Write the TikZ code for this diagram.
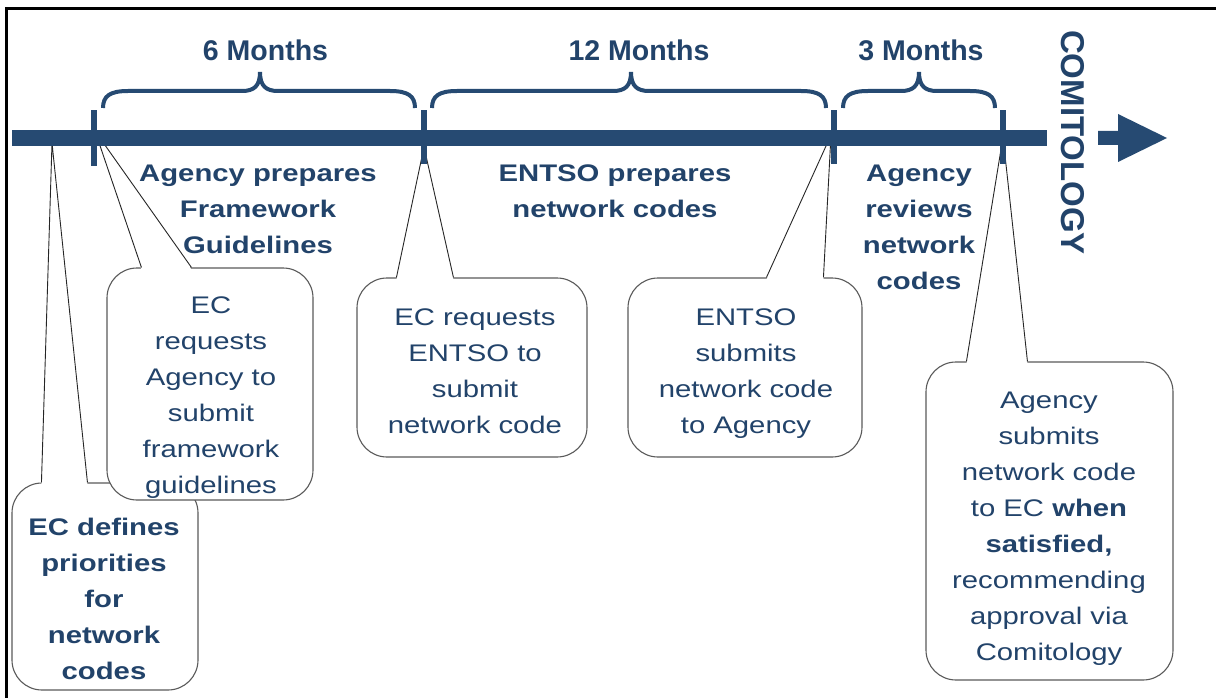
\documentclass[tikz,border=0pt]{standalone}
\usepackage{fontspec}
\setmainfont{Liberation Sans}
\newfontfamily\widefont{Liberation Sans}[FakeStretch=1.22]
\usetikzlibrary{calc}
\definecolor{navy}{RGB}{38,74,114}
\definecolor{txtblue}{RGB}{34,67,106}
\definecolor{outl}{RGB}{90,90,90}
\begin{document}
\begin{tikzpicture}[x=1pt,y=-1pt,
  bracestyle/.style={draw=navy,line width=4pt},
  toplab/.style={text=txtblue,inner sep=0,font=\bfseries\fontsize{28.5}{34}\selectfont},
  midlab/.style={text=txtblue,align=center,inner sep=0,anchor=north,font=\widefont\bfseries\fontsize{24}{36}\selectfont},
  boxtxt/.style={text=txtblue,align=center,inner sep=0,anchor=north,font=\widefont\fontsize{24}{36}\selectfont},
  boxtxtb/.style={boxtxt,font=\widefont\bfseries\fontsize{24}{36}\selectfont},
  callbox/.style={draw=outl,line width=1.1pt,fill=white,rounded corners=30pt,inner sep=0},
  ptr/.style={draw=black!85,line width=0.9pt},
  ptrfill/.style={fill=white},
]
\useasboundingbox (0,0) rectangle (1216,698);
\fill[white] (0,0) rectangle (1216,698);
% frame
\draw[line width=2.6pt] (6.5,698) -- (6.5,8.5) -- (1216,8.5);

% apex coordinates on the timeline
\coordinate (pA) at (52,143);
\coordinate (pB) at (95,131);
\coordinate (pC) at (424,147);
\coordinate (pD) at (831,135);
\coordinate (pE) at (1003,137);

% callout A
\node[callbox,minimum width=186pt,minimum height=207pt] (bA) at (105,586.5) {};
\fill[ptrfill] ($(bA.north west)+(30,2)$) -- (pA) -- ($(bA.north west)+(76,2)$) -- cycle;
\draw[ptr] ($(bA.north west)+(30,0)$) -- (pA) -- ($(bA.north west)+(76,0)$);
% callout B
\node[callbox,minimum width=206pt,minimum height=232pt] (bB) at (210,384) {};
\fill[ptrfill] ($(bB.north west)+(35,2)$) -- (pB) -- ($(bB.north west)+(85,2)$) -- cycle;
\draw[ptr] ($(bB.north west)+(35,0)$) -- (pB) -- ($(bB.north west)+(85,0)$);
% callout C
\node[callbox,minimum width=230pt,minimum height=179pt] (bC) at (472,367.5) {};
\fill[ptrfill] ($(bC.north west)+(40,2)$) -- (pC) -- ($(bC.north west)+(97,2)$) -- cycle;
\draw[ptr] ($(bC.north west)+(40,0)$) -- (pC) -- ($(bC.north west)+(97,0)$);
% callout D
\node[callbox,minimum width=234pt,minimum height=179pt] (bD) at (745,367.5) {};
\fill[ptrfill] ($(bD.north west)+(139,2)$) -- (pD) -- ($(bD.north west)+(196,2)$) -- cycle;
\draw[ptr] ($(bD.north west)+(139,0)$) -- (pD) -- ($(bD.north west)+(196,0)$);
% callout E
\node[callbox,minimum width=247pt,minimum height=318pt] (bE) at (1049.5,521) {};
\fill[ptrfill] ($(bE.north west)+(41,2)$) -- (pE) -- ($(bE.north west)+(102,2)$) -- cycle;
\draw[ptr] ($(bE.north west)+(41,0)$) -- (pE) -- ($(bE.north west)+(102,0)$);

% callout texts
\node[boxtxtb] (tA) at (104,518) {EC defines\\priorities\\for\\network\\codes};
\node[boxtxt] (tB) at (211,297) {EC\\requests\\Agency to\\submit\\framework\\guidelines};
\node[boxtxt] (tC) at (475,309) {EC requests\\ENTSO to\\submit\\network code};
\node[boxtxt] (tD) at (746,309) {ENTSO\\submits\\network code\\to Agency};
\node[boxtxt] (tE) at (1049,392) {Agency\\submits\\network code\\to EC \textbf{when}\\\textbf{satisfied,}\\recommending\\approval via\\Comitology};

% phase labels
\node[midlab] (mA) at (258,165) {Agency prepares\\Framework\\Guidelines};
\node[midlab] (mB) at (615,165) {ENTSO prepares\\network codes};
\node[midlab] (mC) at (919,165) {Agency\\reviews\\network\\codes};

% timeline bar and ticks
\fill[navy] (12,130) rectangle (1047,146);
\fill[navy] (91,110) rectangle (97,166);
\fill[navy] (421,110) rectangle (427,164);
\fill[navy] (831,110) rectangle (837,164);
\fill[navy] (1000,110) rectangle (1006,164);

% braces
\draw[bracestyle] (103,108) .. controls (103,96) and (110,91) .. (128,91) -- (242,91)
  .. controls (254,91) and (260,86) .. (260,72) .. controls (260,86) and (266,91) .. (278,91)
  -- (390,91) .. controls (408,91) and (415,96) .. (415,108);
\draw[bracestyle] (432,108) .. controls (432,96) and (439,91) .. (457,91) -- (613,91)
  .. controls (625,91) and (631,86) .. (631,72) .. controls (631,86) and (637,91) .. (649,91)
  -- (801,91) .. controls (819,91) and (826,96) .. (826,108);
\draw[bracestyle] (843,108) .. controls (843,96) and (850,91) .. (868,91) -- (901,91)
  .. controls (913,91) and (919,86) .. (919,72) .. controls (919,86) and (925,91) .. (937,91)
  -- (970,91) .. controls (988,91) and (995,96) .. (995,108);

% duration labels
\node[toplab] (d6) at (265.5,50) {6 Months};
\node[toplab] (d12) at (639,50) {12 Months};
\node[toplab] (d3) at (921,50) {3 Months};

% arrow and comitology
\fill[navy] (1098,131) -- (1118,131) -- (1118,114) -- (1167,138) -- (1118,162) -- (1118,145) -- (1098,145) -- cycle;
\node[text=txtblue,inner sep=0,rotate=-90,font=\bfseries\fontsize{33}{33}\selectfont] (com) at (1072.5,142.5) {COMITOLOGY};
\end{tikzpicture}
\end{document}
